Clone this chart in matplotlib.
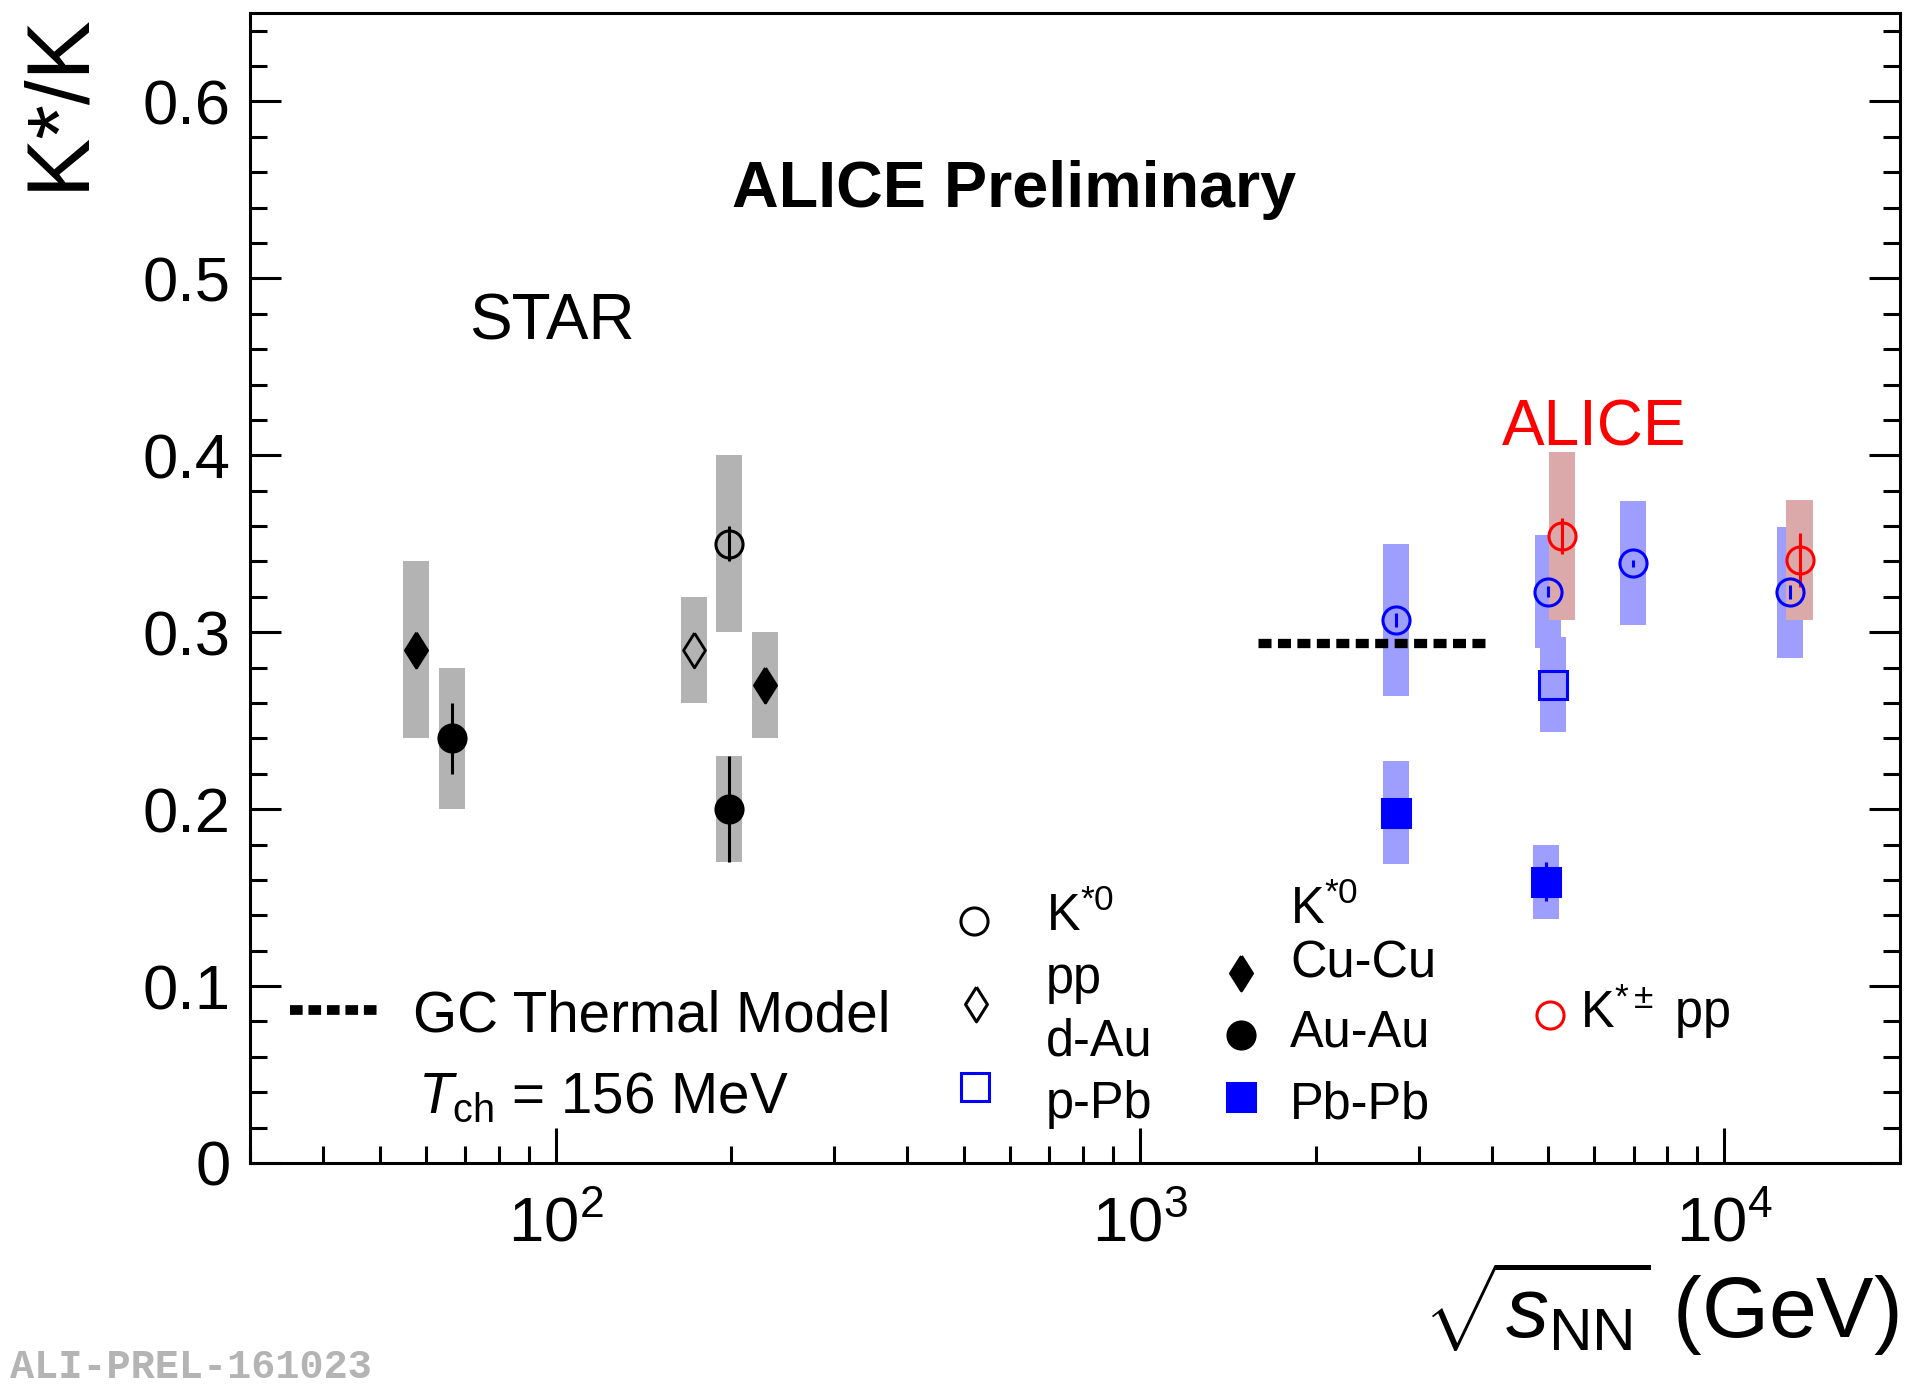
import numpy as np
import matplotlib
matplotlib.use('Agg')
import matplotlib.pyplot as plt
from matplotlib.ticker import MultipleLocator, FuncFormatter, NullFormatter, LogLocator

plt.rcParams['font.family'] = ['Liberation Sans', 'DejaVu Sans']
plt.rcParams['mathtext.fontset'] = 'custom'
plt.rcParams['mathtext.rm'] = 'Liberation Sans'
plt.rcParams['mathtext.it'] = 'Liberation Sans:italic'
plt.rcParams['mathtext.bf'] = 'Liberation Sans:bold'
plt.rcParams['mathtext.default'] = 'regular'

# ---- STAR (RHIC) data ----
star_pp_x = [198.3]
star_pp_y = [0.350]
star_pp_stat = [0.010]
star_pp_sys = [0.050]

star_dau_x = [172.6]
star_dau_y = [0.290]
star_dau_stat = [0.0]
star_dau_sys = [0.030]

star_cucu_x = [57.6, 228.4]
star_cucu_y = [0.290, 0.270]
star_cucu_stat = [0.010, 0.010]
star_cucu_sys = [0.050, 0.030]

star_auau_x = [66.5, 198.3]
star_auau_y = [0.240, 0.200]
star_auau_stat = [0.020, 0.030]
star_auau_sys = [0.040, 0.030]

# ---- ALICE data ----
alice_pp_x = [2748, 4996, 6974, 12970]
alice_pp_y = [0.307, 0.323, 0.339, 0.3226]
alice_pp_stat = [0.004, 0.003, 0.002, 0.004]
alice_pp_sys = [0.043, 0.032, 0.035, 0.037]

alice_ppb_x = [5088]
alice_ppb_y = [0.2704]
alice_ppb_stat = [0.0]
alice_ppb_sys = [0.027]

alice_pbpb_x = [2748, 4964]
alice_pbpb_y = [0.198, 0.159]
alice_pbpb_stat = [0.005, 0.011]
alice_pbpb_sys = [0.029, 0.021]

alice_kpm_x = [5284, 13460]
alice_kpm_y = [0.3545, 0.3408]
alice_kpm_stat = [0.010, 0.0155]
alice_kpm_sys = [0.0475, 0.0337]

# GC thermal model, T_ch = 156 MeV
thermal_x = [1592, 3988]
thermal_y = [0.294, 0.294]

GRAY = '#b3b3b3'
LBLUE = '#9e9eff'
LRED = '#dba9a9'
HW = 0.0223  # half width of systematic boxes in decades

# ROOT style diamond (wider than matplotlib's thin diamond)
DIAMOND = [(0, 1), (0.63, 0), (0, -1), (-0.63, 0), (0, 1)]
MS_DIA = 25
MS = 19.5


def sys_boxes(ax, xs, ys, errs, color):
    xs = np.asarray(xs, float)
    ys = np.asarray(ys, float)
    errs = np.asarray(errs, float)
    left = xs / 10**HW
    width = xs * 10**HW - left
    ax.bar(left, 2 * errs, width=width, bottom=ys - errs, align='edge',
           color=color, edgecolor='none', zorder=1)


def points(ax, xs, ys, errs, color, marker, ms, filled, mew=2.2):
    ax.errorbar(xs, ys, yerr=errs, fmt='none', ecolor=color, elinewidth=2.2,
                capsize=0, zorder=3)
    ax.plot(xs, ys, linestyle='none', marker=marker, ms=ms, mew=mew,
            mec=color, mfc=color if filled else 'none', zorder=4)


fig = plt.figure(figsize=(19.2, 13.88), dpi=100)
ax = fig.add_axes([250 / 1920, 225 / 1388, 1650 / 1920, 1150 / 1388])

# systematic boxes
sys_boxes(ax, star_cucu_x, star_cucu_y, star_cucu_sys, GRAY)
sys_boxes(ax, star_auau_x, star_auau_y, star_auau_sys, GRAY)
sys_boxes(ax, star_dau_x, star_dau_y, star_dau_sys, GRAY)
sys_boxes(ax, star_pp_x, star_pp_y, star_pp_sys, GRAY)
sys_boxes(ax, alice_pp_x, alice_pp_y, alice_pp_sys, LBLUE)
sys_boxes(ax, alice_ppb_x, alice_ppb_y, alice_ppb_sys, LBLUE)
sys_boxes(ax, alice_pbpb_x, alice_pbpb_y, alice_pbpb_sys, LBLUE)
sys_boxes(ax, alice_kpm_x, alice_kpm_y, alice_kpm_sys, LRED)

# thermal model line
ax.plot(thermal_x, thermal_y, color='black', lw=6.7,
        linestyle=(0, (1.4, 0.69)), dash_capstyle='butt', zorder=2)

# markers
points(ax, star_cucu_x, star_cucu_y, star_cucu_stat, 'black', DIAMOND, MS_DIA, True)
points(ax, star_auau_x, star_auau_y, star_auau_stat, 'black', 'o', MS, True)
points(ax, star_dau_x, star_dau_y, star_dau_stat, 'black', DIAMOND, MS_DIA, False, mew=2)
points(ax, star_pp_x, star_pp_y, star_pp_stat, 'black', 'o', MS, False)
points(ax, alice_pp_x, alice_pp_y, alice_pp_stat, 'blue', 'o', MS, False)
points(ax, alice_ppb_x, alice_ppb_y, alice_ppb_stat, 'blue', 's', MS, False)
points(ax, alice_pbpb_x, alice_pbpb_y, alice_pbpb_stat, 'blue', 's', MS, True)
points(ax, alice_kpm_x, alice_kpm_y, alice_kpm_stat, 'red', 'o', MS, False)

# axes
ax.set_xscale('log')
ax.set_xlim(30, 20000)
ax.set_ylim(0, 0.65)
ax.yaxis.set_major_locator(MultipleLocator(0.1))
ax.yaxis.set_minor_locator(MultipleLocator(0.02))
ax.yaxis.set_major_formatter(FuncFormatter(lambda v, _: f"{v:g}"))
ax.xaxis.set_major_locator(LogLocator(base=10))
ax.xaxis.set_minor_locator(LogLocator(base=10, subs=np.arange(2, 10)))
ax.xaxis.set_minor_formatter(NullFormatter())
for s in ax.spines.values():
    s.set_linewidth(2.2)
ax.tick_params(axis='both', which='both', direction='in', top=False, right=True,
               width=2.2, labelsize=45.6)
ax.tick_params(axis='y', which='major', length=22.3, pad=14)
ax.tick_params(axis='y', which='minor', length=12.2)
ax.tick_params(axis='x', which='major', length=25, pad=23)
ax.tick_params(axis='x', which='minor', length=12.6)

# titles / annotations
ax.text(0.2921, 0.8313, 'ALICE Preliminary', transform=ax.transAxes,
        fontsize=46.5, fontweight='bold', va='baseline', ha='left')
ax.text(0.1327, 0.7165, 'STAR', transform=ax.transAxes, fontsize=46,
        va='baseline', ha='left')
ax.text(0.7588, 0.6235, 'ALICE', transform=ax.transAxes, fontsize=46,
        color='red', va='baseline', ha='left')

# legend: thermal model
ax.plot([0.0242, 0.0794], [0.1330, 0.1330], transform=ax.transAxes, color='black',
        lw=7, linestyle=(0, (1.3, 0.6)), dash_capstyle='butt', clip_on=False)
ax.text(0.0988, 0.1142, 'GC Thermal Model', transform=ax.transAxes,
        fontsize=40.8, va='baseline', ha='left')
ax.text(0.1018, 0.0435, r'$\mathit{T}_{\mathrm{ch}}$ = 156 MeV', transform=ax.transAxes,
        fontsize=40.8, va='baseline', ha='left')

# legend: markers
leg_markers = [
    (0.4388, 0.2104, 'o', 'black', False, MS),
    (0.4397, 0.1384, DIAMOND, 'black', False, MS_DIA),
    (0.4394, 0.0661, 's', 'blue', False, MS),
    (0.6006, 0.1652, DIAMOND, 'black', True, MS_DIA),
    (0.6006, 0.1113, 'o', 'black', True, MS),
    (0.6006, 0.0574, 's', 'blue', True, MS),
    (0.7879, 0.1283, 'o', 'red', False, MS),
]
for x, y, m, c, f, ms in leg_markers:
    ax.plot([x], [y], transform=ax.transAxes, linestyle='none', marker=m, ms=ms,
            mew=2.2, mec=c, mfc=c if f else 'none', clip_on=False)

leg_texts = [
    (0.4824, 0.2017, r'K$^{*0}$'),
    (0.4824, 0.1478, 'pp'),
    (0.4824, 0.0939, 'd-Au'),
    (0.4824, 0.0391, 'p-Pb'),
    (0.6303, 0.2078, r'K$^{*0}$'),
    (0.6303, 0.1609, 'Cu-Cu'),
    (0.6303, 0.1009, 'Au-Au'),
    (0.6303, 0.0391, 'Pb-Pb'),
    (0.8061, 0.1174, r'K$^{*\pm}$ pp'),
]
for x, y, t in leg_texts:
    ax.text(x, y, t, transform=ax.transAxes, fontsize=36.4, va='baseline', ha='left')

# axis titles
fig.text(17 / 1920, 1 - 12 / 1388, 'K*/K', rotation=90, fontsize=64,
         ha='left', va='top')
fig.text(1899 / 1920, 50 / 1388, r'$\sqrt{\mathit{s}_{\mathrm{NN}}}$ (GeV)',
         fontsize=62, ha='right', va='baseline')

fig.text(10 / 1920, 10 / 1388, 'ALI-PREL-161023', family=['Liberation Mono', 'DejaVu Sans Mono'],
         fontweight='bold', fontsize=29, color='#b4b4b4', ha='left', va='baseline')

fig.savefig('out.png', dpi=100)
